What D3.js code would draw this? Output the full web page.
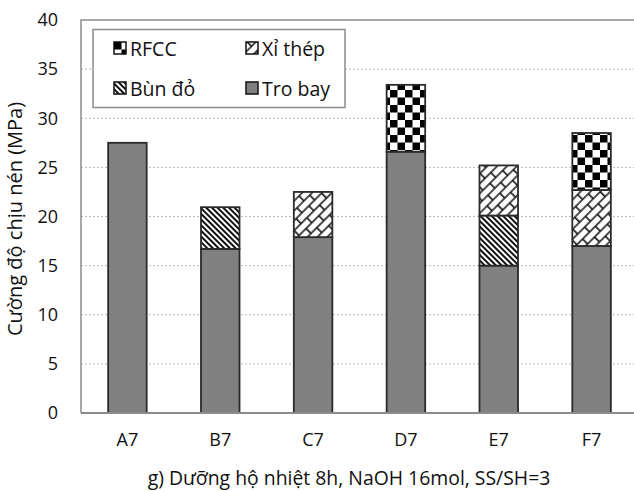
<!DOCTYPE html>
<html>
<head>
<meta charset="utf-8">
<script src="https://cdn.jsdelivr.net/npm/d3@7"></script>
<style>
  html, body { margin: 0; padding: 0; background: #fff; }
  svg { display: block; font-family: "Open Sans", "Noto Sans", sans-serif; }
</style>
</head>
<body>
<svg id="chart" width="634" height="491"></svg>
<script>
// Mẫu vữa geopolymer
const categories = ["A7", "B7", "C7", "D7", "E7", "F7"];
// Cường độ chịu nén theo thành phần (MPa)
const troBay = [27.5, 16.7, 17.9, 26.6, 15.0, 17.0];
const bunDo  = [0, 4.25, 0, 0, 5.1, 0];
const xiThep = [0, 0, 4.6, 0, 5.1, 5.7];
const rfcc   = [0, 0, 0, 6.8, 0, 5.8];
const seriesNames = ["Tro bay", "Bùn đỏ", "Xỉ thép", "RFCC"];
const yTicks = [0, 5, 10, 15, 20, 25, 30, 35, 40];
const yTitle = "Cường độ chịu nén (MPa)";
const xTitle = "g) Dưỡng hộ nhiệt 8h, NaOH 16mol, SS/SH=3";

const svg = d3.select("#chart");
const plot = { left: 81, right: 638, top: 20, bottom: 413 };

const x = d3.scaleBand().domain(categories)
  .range([plot.left, plot.right]).paddingInner(0.585).paddingOuter(0.2925);
const y = d3.scaleLinear().domain([0, 40]).range([plot.bottom, plot.top]);

// Fill patterns
const defs = svg.append("defs");
const fills = {
  "Tro bay": "#808080",
  "Bùn đỏ": "url(#pBun)",
  "Xỉ thép": "url(#pXi)",
  "RFCC": "url(#pRfcc)"
};

// diagonal stripes "\"
const pb = defs.append("pattern").attr("id", "pBun").attr("patternUnits", "userSpaceOnUse")
  .attr("width", 4).attr("height", 4).attr("patternTransform", "rotate(45)");
pb.append("rect").attr("width", 4).attr("height", 4).attr("fill", "#fff");
pb.append("rect").attr("width", 4).attr("height", 2).attr("fill", "#111");

// diagonal brick (rows of bricks running "/")
const bh = 7, bl = 18;
const px = defs.append("pattern").attr("id", "pXi").attr("patternUnits", "userSpaceOnUse")
  .attr("width", bl).attr("height", 2 * bh).attr("patternTransform", "rotate(-45)");
px.append("rect").attr("width", bl).attr("height", 2 * bh).attr("fill", "#fff");
px.append("path")
  .attr("d", `M0,0H${bl}M0,${bh}H${bl}M0,${2 * bh}H${bl}M0.8,0V${bh}M${bl / 2},${bh}V${2 * bh}`)
  .attr("stroke", "#111").attr("stroke-width", 1.6).attr("fill", "none");

// checkerboard
const c = 7.5;
const pr = defs.append("pattern").attr("id", "pRfcc").attr("patternUnits", "userSpaceOnUse")
  .attr("width", 2 * c).attr("height", 2 * c);
pr.append("rect").attr("width", 2 * c).attr("height", 2 * c).attr("fill", "#fff");
pr.append("rect").attr("width", c).attr("height", c).attr("fill", "#000");
pr.append("rect").attr("x", c).attr("y", c).attr("width", c).attr("height", c).attr("fill", "#000");

// Gridlines
svg.append("g").selectAll("line")
  .data(yTicks.filter(t => t > 0 && t < 40))
  .join("line")
  .attr("x1", plot.left).attr("x2", 634)
  .attr("y1", d => y(d)).attr("y2", d => y(d))
  .attr("stroke", "#b8b8b8").attr("stroke-width", 1).attr("stroke-dasharray", "2,2");

// Stacked bars
const rows = categories.map((cat, i) => ({
  cat, "Tro bay": troBay[i], "Bùn đỏ": bunDo[i], "Xỉ thép": xiThep[i], "RFCC": rfcc[i]
}));
const stacked = d3.stack().keys(seriesNames)(rows);

svg.append("g").selectAll("g")
  .data(stacked)
  .join("g")
  .attr("fill", d => fills[d.key])
  .selectAll("rect")
  .data(d => d.filter(p => p[1] - p[0] > 0))
  .join("rect")
  .attr("x", d => x(d.data.cat))
  .attr("width", x.bandwidth())
  .attr("y", d => y(d[1]))
  .attr("height", d => y(d[0]) - y(d[1]))
  .attr("stroke", "#2a2a2a").attr("stroke-width", 1.8);

// Frame and axes
svg.append("path")
  .attr("d", `M${plot.left},${plot.bottom}V${plot.top}H634`)
  .attr("fill", "none").attr("stroke", "#8c8c8c").attr("stroke-width", 1.5);

svg.append("line")
  .attr("x1", plot.left).attr("x2", 634)
  .attr("y1", plot.bottom).attr("y2", plot.bottom)
  .attr("stroke", "#8c8c8c").attr("stroke-width", 2);

const yAxis = d3.axisLeft(y).tickValues(yTicks).tickSize(0).tickPadding(0);
const gy = svg.append("g").attr("transform", `translate(58,0)`).call(yAxis);
gy.select(".domain").remove();
gy.selectAll("text").attr("font-size", 18).attr("fill", "#111")
  .attr("font-family", "'Open Sans', sans-serif");

const xAxis = d3.axisBottom(x).tickSize(0).tickPadding(0);
const gx = svg.append("g").attr("transform", `translate(0,${plot.bottom + 20})`).call(xAxis);
gx.select(".domain").remove();
gx.selectAll("text").attr("font-size", 18).attr("fill", "#111")
  .attr("font-family", "'Open Sans', sans-serif");

// Titles
svg.append("text")
  .attr("transform", `translate(22,${(120 + 318) / 2}) rotate(-90)`)
  .attr("text-anchor", "middle").attr("font-size", 20).attr("fill", "#111")
  .text(yTitle);

svg.append("text")
  .attr("x", 349).attr("y", 485)
  .attr("text-anchor", "middle").attr("font-size", 19.4).attr("fill", "#111")
  .text(xTitle);

// Legend
const lg = svg.append("g");
lg.append("rect").attr("x", 93).attr("y", 29.5).attr("width", 252).attr("height", 78)
  .attr("fill", "#fff").attr("stroke", "#8c8c8c").attr("stroke-width", 1.5);
const legendItems = [
  { key: "RFCC", col: 0, row: 0 },
  { key: "Xỉ thép", col: 1, row: 0 },
  { key: "Bùn đỏ", col: 0, row: 1 },
  { key: "Tro bay", col: 1, row: 1 }
];
const li = lg.selectAll("g.item").data(legendItems).join("g")
  .attr("class", "item")
  .attr("transform", d => `translate(${114 + d.col * 132},${42 + d.row * 40})`);
li.append("rect").attr("width", 12).attr("height", 12)
  .attr("fill", d => fills[d.key]).attr("stroke", "#111").attr("stroke-width", 1.5);
li.append("text").attr("x", 16).attr("y", 13.5)
  .attr("font-size", 19.5).attr("fill", "#111")
  .text(d => d.key);
</script>
</body>
</html>
